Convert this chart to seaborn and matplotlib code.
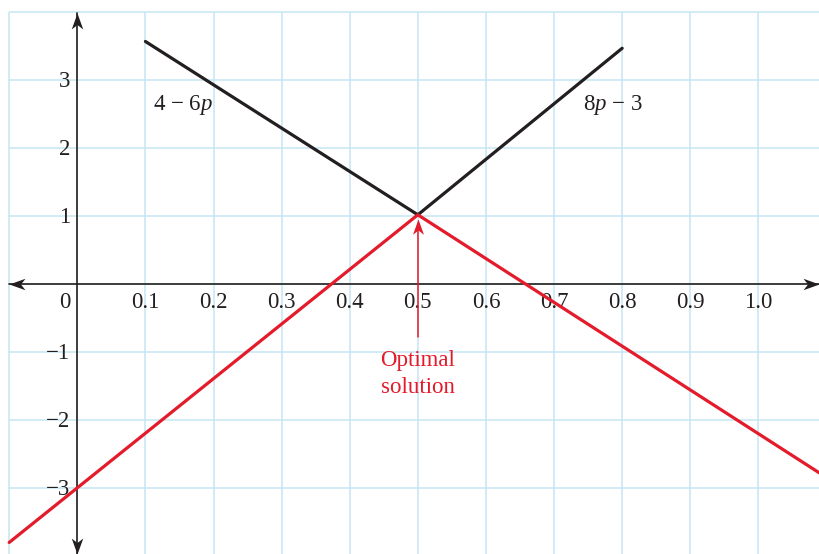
import matplotlib.pyplot as plt
import seaborn as sns
from matplotlib.path import Path

# line values
black_p1 = [0.1, 0.5]
black_v1 = [3.57, 1.02]
black_p2 = [0.5, 0.8]
black_v2 = [1.02, 3.47]
red_p = [-0.1, 0.5, 1.09]
red_v = [-3.8, 1.02, -2.78]

x_ticks = [0.1, 0.2, 0.3, 0.4, 0.5, 0.6, 0.7, 0.8, 0.9, 1.0]
x_labels = ['0.1', '0.2', '0.3', '0.4', '0.5', '0.6', '0.7', '0.8', '0.9', '1.0']
y_ticks = [3, 2, 1, -1, -2, -3]
y_labels = ['3', '2', '1', '\u22121', '\u22122', '\u22123']
grid_x = [-0.1, 0.0, 0.1, 0.2, 0.3, 0.4, 0.5, 0.6, 0.7, 0.8, 0.9, 1.0]
grid_y = [4, 3, 2, 1, 0, -1, -2, -3]

XLIM = (-0.1135, 1.089)
YLIM = (-3.97, 4.18)

RED = '#e31b2b'
INK = '#231f20'
GRID = '#c6e5f1'
FS = 16.5

sns.set_style('white')
plt.rcParams['font.family'] = ['Liberation Serif', 'DejaVu Serif']
plt.rcParams['mathtext.fontset'] = 'custom'
plt.rcParams['mathtext.rm'] = 'Liberation Serif'
plt.rcParams['mathtext.it'] = 'Liberation Serif:italic'


def arrow_head(direction):
    # stealth style head, tip at origin
    pts = [(0, 0), (-1, 0.36), (-0.72, 0), (-1, -0.36), (0, 0)]
    rot = {'right': lambda x, y: (x, y), 'left': lambda x, y: (-x, y),
           'up': lambda x, y: (y, x), 'down': lambda x, y: (y, -x)}[direction]
    verts = [rot(x, y) for x, y in pts]
    codes = [Path.MOVETO, Path.LINETO, Path.LINETO, Path.LINETO, Path.CLOSEPOLY]
    return Path(verts, codes)


fig = plt.figure(figsize=(8.19, 5.54), dpi=100)
ax = fig.add_axes([0, 0, 1, 1])
ax.set_xlim(*XLIM)
ax.set_ylim(*YLIM)
ax.set_axis_off()

# graph paper
ax.vlines(grid_x, YLIM[0], 4.0, color=GRID, lw=1.1, zorder=0)
ax.hlines(grid_y, -0.1, XLIM[1], color=GRID, lw=1.1, zorder=0)

# axes with arrows
ax.plot([-0.1, XLIM[1]], [0, 0], color=INK, lw=1.2, zorder=2)
ax.plot([0, 0], [YLIM[0], 3.99], color=INK, lw=1.2, zorder=2)
for (px, py, d) in [(-0.1, 0, 'left'), (XLIM[1], 0, 'right'), (0, 3.99, 'up'), (0, YLIM[0], 'down')]:
    ax.plot([px], [py], marker=arrow_head(d), markersize=23, color=INK, mew=0, zorder=3,
            clip_on=False)

# the lines
sns.lineplot(x=black_p1, y=black_v1, color=INK, lw=2.3, ax=ax, zorder=4)
sns.lineplot(x=black_p2, y=black_v2, color=INK, lw=2.3, ax=ax, zorder=4)
sns.lineplot(x=red_p, y=red_v, color=RED, lw=2.3, ax=ax, zorder=5)

# tick labels
for t, lab in zip(x_ticks, x_labels):
    ax.text(t, -0.357, lab, ha='center', va='baseline', fontsize=FS, color=INK)
for t, lab in zip(y_ticks, y_labels):
    ax.text(-0.0107, t - 0.1, lab, ha='right', va='baseline', fontsize=FS, color=INK)
ax.text(-0.0107, -0.357, '0', ha='right', va='baseline', fontsize=FS, color=INK)

# line labels
ax.text(0.111, 2.56, '4 \u2212 6$p$', ha='left', va='baseline', fontsize=FS, color=INK)
ax.text(0.743, 2.56, '8$p$ \u2212 3', ha='left', va='baseline', fontsize=FS, color=INK)

# optimal solution pointer
ax.plot([0.5, 0.5], [-0.78, 0.85], color=RED, lw=1.1, zorder=6)
ax.plot([0.5], [0.96], marker=arrow_head('up'), markersize=22, color=RED, mew=0, zorder=6)
ax.text(0.5, -1.206, 'Optimal', ha='center', va='baseline', fontsize=FS, color=RED)
ax.text(0.5, -1.60, 'solution', ha='center', va='baseline', fontsize=FS, color=RED)

fig.savefig('out.png', dpi=100, facecolor='white')
